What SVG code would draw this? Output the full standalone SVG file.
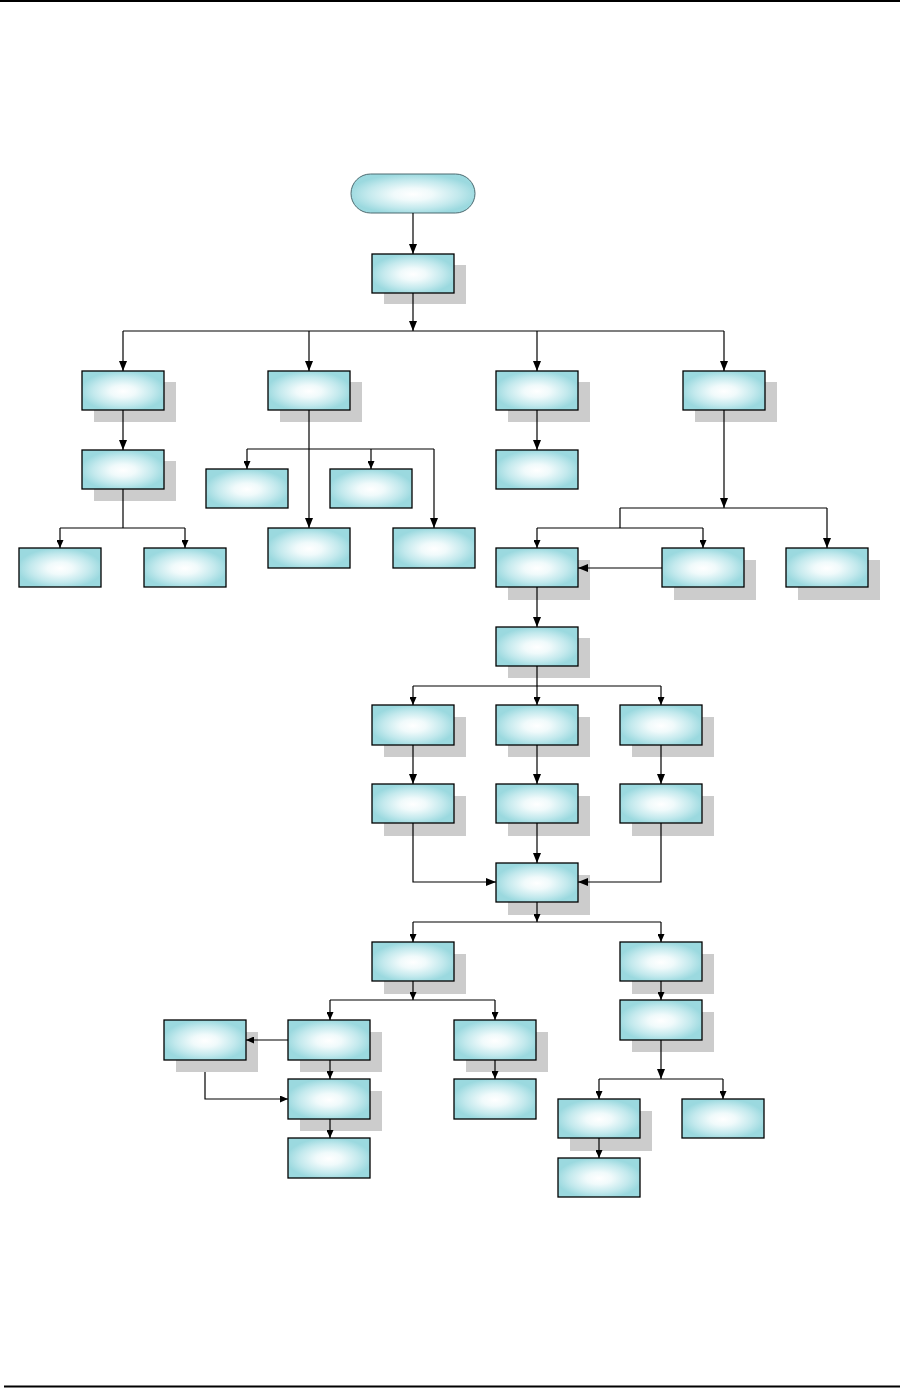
<svg xmlns="http://www.w3.org/2000/svg" width="912" height="1388" viewBox="0 0 912 1388">
<defs>
<radialGradient id="g" cx="50%" cy="52%" r="52%">
<stop offset="0" stop-color="#ffffff"/>
<stop offset="0.3" stop-color="#f0fafb"/>
<stop offset="0.7" stop-color="#c3e9ed"/>
<stop offset="1" stop-color="#9bd9df"/>
</radialGradient>
<marker id="big" markerUnits="userSpaceOnUse" markerWidth="10" markerHeight="8" refX="10" refY="4" orient="auto">
<path d="M0,0 L10,4 L0,8 z" fill="#000"/>
</marker>
<marker id="sm" markerUnits="userSpaceOnUse" markerWidth="8" markerHeight="7" refX="8" refY="3.5" orient="auto">
<path d="M0,0 L8,3.5 L0,7 z" fill="#000"/>
</marker>
</defs>
<style>
.b{fill:url(#g);stroke:#000;stroke-width:1.3}
.s{fill:#cccccc}
.p{fill:url(#g);stroke:#4d6a70;stroke-width:1}
.c path{fill:none;stroke:#000;stroke-width:1.2}
.pg{stroke:#000;stroke-width:2}
</style>
<line class="pg" x1="0" y1="1" x2="900" y2="1"/>
<line class="pg" x1="4" y1="1386.5" x2="900" y2="1386.5"/>

<g id="start"><rect class="p" x="351" y="174" width="124" height="39" rx="19.5"/></g>
<g id="n1"><rect class="s" x="384" y="265" width="82" height="39"/><rect class="b" x="372" y="254" width="82" height="39"/></g>
<g id="n2a"><rect class="s" x="94" y="382" width="82" height="40"/><rect class="b" x="82" y="371" width="82" height="39"/></g>
<g id="n2b"><rect class="s" x="280" y="382" width="82" height="40"/><rect class="b" x="268" y="371" width="82" height="39"/></g>
<g id="n2c"><rect class="s" x="508" y="382" width="82" height="40"/><rect class="b" x="496" y="371" width="82" height="39"/></g>
<g id="n2d"><rect class="s" x="695" y="382" width="82" height="40"/><rect class="b" x="683" y="371" width="82" height="39"/></g>
<g id="n3a"><rect class="s" x="94" y="461" width="82" height="40"/><rect class="b" x="82" y="450" width="82" height="39"/></g>
<g id="n4a1"><rect class="b" x="19" y="548" width="82" height="39"/></g>
<g id="n4a2"><rect class="b" x="144" y="548" width="82" height="39"/></g>
<g id="n3b1"><rect class="b" x="206" y="469" width="82" height="39"/></g>
<g id="n3b2"><rect class="b" x="330" y="469" width="82" height="39"/></g>
<g id="n3b3"><rect class="b" x="268" y="528" width="82" height="40"/></g>
<g id="n3b4"><rect class="b" x="393" y="528" width="82" height="40"/></g>
<g id="n3c"><rect class="b" x="496" y="450" width="82" height="39"/></g>
<g id="n5a"><rect class="s" x="508" y="560" width="82" height="40"/><rect class="b" x="496" y="548" width="82" height="39"/></g>
<g id="n5b"><rect class="s" x="674" y="560" width="82" height="40"/><rect class="b" x="662" y="548" width="82" height="39"/></g>
<g id="n5c"><rect class="s" x="798" y="560" width="82" height="40"/><rect class="b" x="786" y="548" width="82" height="39"/></g>
<g id="n6"><rect class="s" x="508" y="638" width="82" height="40"/><rect class="b" x="496" y="627" width="82" height="39"/></g>
<g id="n7a"><rect class="s" x="384" y="717" width="82" height="40"/><rect class="b" x="372" y="705" width="82" height="40"/></g>
<g id="n7b"><rect class="s" x="508" y="717" width="82" height="40"/><rect class="b" x="496" y="705" width="82" height="40"/></g>
<g id="n7c"><rect class="s" x="632" y="717" width="82" height="40"/><rect class="b" x="620" y="705" width="82" height="40"/></g>
<g id="n8a"><rect class="s" x="384" y="796" width="82" height="40"/><rect class="b" x="372" y="784" width="82" height="39"/></g>
<g id="n8b"><rect class="s" x="508" y="796" width="82" height="40"/><rect class="b" x="496" y="784" width="82" height="39"/></g>
<g id="n8c"><rect class="s" x="632" y="796" width="82" height="40"/><rect class="b" x="620" y="784" width="82" height="39"/></g>
<g id="n9"><rect class="s" x="508" y="875" width="82" height="40"/><rect class="b" x="496" y="863" width="82" height="39"/></g>
<g id="n10a"><rect class="s" x="384" y="954" width="82" height="40"/><rect class="b" x="372" y="942" width="82" height="39"/></g>
<g id="n10b"><rect class="s" x="632" y="954" width="82" height="40"/><rect class="b" x="620" y="942" width="82" height="39"/></g>
<g id="n11b"><rect class="s" x="632" y="1012" width="82" height="40"/><rect class="b" x="620" y="1000" width="82" height="40"/></g>
<g id="n12a"><rect class="s" x="176" y="1032" width="82" height="40"/><rect class="b" x="164" y="1020" width="82" height="40"/></g>
<g id="n12b"><rect class="s" x="300" y="1032" width="82" height="40"/><rect class="b" x="288" y="1020" width="82" height="40"/></g>
<g id="n12c"><rect class="s" x="466" y="1032" width="82" height="40"/><rect class="b" x="454" y="1020" width="82" height="40"/></g>
<g id="n13b"><rect class="s" x="300" y="1091" width="82" height="40"/><rect class="b" x="288" y="1079" width="82" height="40"/></g>
<g id="n13c"><rect class="b" x="454" y="1079" width="82" height="40"/></g>
<g id="n14b"><rect class="b" x="288" y="1138" width="82" height="40"/></g>
<g id="n15a"><rect class="s" x="570" y="1111" width="82" height="40"/><rect class="b" x="558" y="1099" width="82" height="39"/></g>
<g id="n15b"><rect class="b" x="682" y="1099" width="82" height="39"/></g>
<g id="n16a"><rect class="b" x="558" y="1158" width="82" height="39"/></g>

<g id="connectors" class="c">
<path d="M413,213 V254" marker-end="url(#big)"/>
<path d="M413,293 V331" marker-end="url(#big)"/>
<path d="M123,331 H724"/>
<path d="M123,331 V371" marker-end="url(#big)"/>
<path d="M309,331 V371" marker-end="url(#big)"/>
<path d="M537,331 V371" marker-end="url(#big)"/>
<path d="M724,331 V371" marker-end="url(#big)"/>
<path d="M123,410 V450" marker-end="url(#big)"/>
<path d="M123,489 V528 M60,528 H185"/>
<path d="M60,528 V548" marker-end="url(#sm)"/>
<path d="M185,528 V548" marker-end="url(#sm)"/>
<path d="M309,410 V528" marker-end="url(#big)"/>
<path d="M247,449 H434"/>
<path d="M247,449 V469" marker-end="url(#sm)"/>
<path d="M371,449 V469" marker-end="url(#sm)"/>
<path d="M434,449 V528" marker-end="url(#big)"/>
<path d="M537,410 V450" marker-end="url(#big)"/>
<path d="M724,410 V508" marker-end="url(#big)"/>
<path d="M620,508 H827 M620,508 V528 M537,528 H703"/>
<path d="M537,528 V548" marker-end="url(#sm)"/>
<path d="M703,528 V548" marker-end="url(#sm)"/>
<path d="M827,508 V548" marker-end="url(#big)"/>
<path d="M662,568 H578" marker-end="url(#big)"/>
<path d="M537,587 V627" marker-end="url(#big)"/>
<path d="M537,666 V686 M413,686 H661"/>
<path d="M413,686 V705" marker-end="url(#sm)"/>
<path d="M537,686 V705" marker-end="url(#sm)"/>
<path d="M661,686 V705" marker-end="url(#sm)"/>
<path d="M413,745 V784" marker-end="url(#big)"/>
<path d="M537,745 V784" marker-end="url(#big)"/>
<path d="M661,745 V784" marker-end="url(#big)"/>
<path d="M413,823 V882 H496" marker-end="url(#big)"/>
<path d="M537,823 V863" marker-end="url(#big)"/>
<path d="M661,823 V882 H578" marker-end="url(#big)"/>
<path d="M537,902 V922" marker-end="url(#sm)"/>
<path d="M413,922 H661"/>
<path d="M413,922 V942" marker-end="url(#sm)"/>
<path d="M661,922 V942" marker-end="url(#sm)"/>
<path d="M413,981 V1000" marker-end="url(#sm)"/>
<path d="M330,1000 H495"/>
<path d="M330,1000 V1020" marker-end="url(#sm)"/>
<path d="M495,1000 V1020" marker-end="url(#sm)"/>
<path d="M661,981 V1000" marker-end="url(#sm)"/>
<path d="M288,1040 H246" marker-end="url(#sm)"/>
<path d="M330,1060 V1079" marker-end="url(#sm)"/>
<path d="M495,1060 V1079" marker-end="url(#sm)"/>
<path d="M205,1072 V1099 H288" marker-end="url(#sm)"/>
<path d="M330,1119 V1138" marker-end="url(#sm)"/>
<path d="M661,1040 V1079" marker-end="url(#big)"/>
<path d="M599,1079 H723"/>
<path d="M599,1079 V1099" marker-end="url(#sm)"/>
<path d="M723,1079 V1099" marker-end="url(#sm)"/>
<path d="M599,1138 V1158" marker-end="url(#sm)"/>
</g>
</svg>
